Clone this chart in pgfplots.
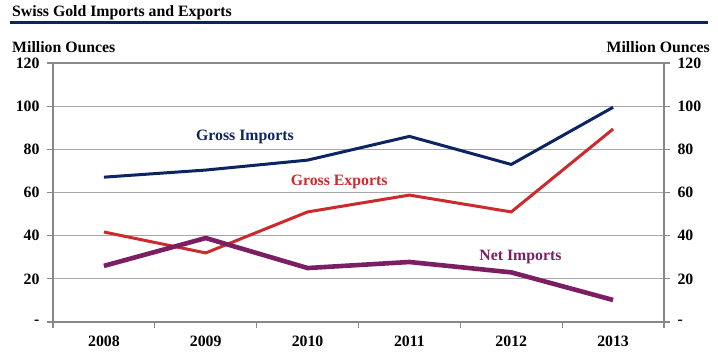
\documentclass[border=0pt]{standalone}
\usepackage{fontspec}
\setmainfont{Liberation Serif}
\usepackage{pgfplots}
\pgfplotsset{compat=1.18}
\definecolor{navy}{RGB}{12,36,98}
\definecolor{expred}{RGB}{204,42,44}
\definecolor{netpur}{RGB}{123,30,98}
\definecolor{axgray}{RGB}{136,136,136}
\definecolor{gridgray}{RGB}{168,168,168}
\newcommand{\cf}{\fontsize{15.8}{18}\selectfont\bfseries}
\begin{document}
\begin{tikzpicture}
\path[use as bounding box] (0pt,0pt) rectangle (718pt,361pt);
\node[anchor=base west, inner sep=0pt, font=\cf] at (12pt,344pt) {Swiss Gold Imports and Exports};
\draw[navy, line width=3pt] (10pt,338.5pt) -- (708pt,338.5pt);
\node[anchor=base west, inner sep=0pt, font=\cf] at (12pt,308.5pt) {Million Ounces};
\node[anchor=base east, inner sep=0pt, font=\cf] at (710pt,308pt) {Million Ounces};
\begin{axis}[
  at={(53pt,39pt)}, anchor=south west, scale only axis,
  width=611pt, height=259pt,
  xmin=-0.5, xmax=5.5, ymin=0, ymax=120,
  xtick={0,...,5}, xticklabels={2008,2009,2010,2011,2012,2013},
  major x tick style={draw=none},
  minor xtick={-0.5,0.5,...,5.5},
  minor x tick style={axgray, line width=1.2pt},
  minor tick length=6pt,
  ytick={0,20,...,120}, yticklabels={-,20,40,60,80,100,120},
  ytick pos=left, xtick pos=bottom,
  tick align=outside, major tick length=6pt,
  y tick style={axgray, line width=1.2pt},
  ymajorgrids, grid style={gridgray, line width=1pt},
  axis line style={axgray, line width=1.5pt},
  /pgf/number format/assume math mode=true,
  tick label style={font=\cf},
  xticklabel style={yshift=-4pt},
  yticklabel style={xshift=-4pt},
  clip=false,
]
\addplot[navy, line width=3pt] coordinates {(0,67.1) (1,70.4) (2,75) (3,86) (4,73) (5,99.5)};
\addplot[expred, line width=3pt] coordinates {(0,41.7) (1,32) (2,51) (3,58.8) (4,51) (5,89.4)};
\addplot[netpur, line width=4.6pt] coordinates {(0,26) (1,38.9) (2,25) (3,27.8) (4,23) (5,10.2)};
\node[navy, font=\cf] at (axis cs:1.385,85.6) {Gross Imports};
\node[expred, font=\cf] at (axis cs:2.31,64.8) {Gross Exports};
\node[netpur, font=\cf] at (axis cs:4.09,30) {Net Imports};
\end{axis}
\begin{axis}[
  at={(53pt,39pt)}, anchor=south west, scale only axis,
  width=611pt, height=259pt,
  xmin=-0.5, xmax=5.5, ymin=0, ymax=120,
  axis x line=none, axis y line*=right,
  ytick={0,20,...,120}, yticklabels={-,20,40,60,80,100,120},
  tick align=outside, major tick length=6pt,
  y tick style={axgray, line width=1.2pt},
  axis line style={axgray, line width=1.5pt},
  /pgf/number format/assume math mode=true,
  tick label style={font=\cf},
  yticklabel style={xshift=4pt},
]
\addplot[draw=none] coordinates {(0,0)};
\end{axis}
\end{tikzpicture}
\end{document}
